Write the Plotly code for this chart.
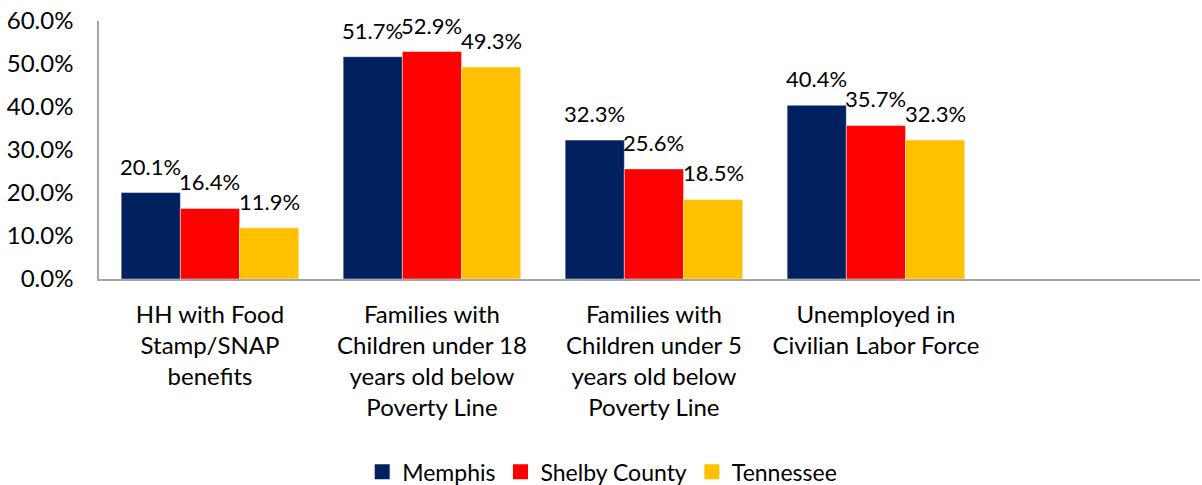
import plotly.graph_objects as go

# Poverty and hardship indicators, by geography
categories = [
    "HH with Food<br>Stamp/SNAP<br>benefits",
    "Families with<br>Children under 18<br>years old below<br>Poverty Line",
    "Families with<br>Children under 5<br>years old below<br>Poverty Line",
    "Unemployed in<br>Civilian Labor Force",
]
memphis = [0.201, 0.517, 0.323, 0.404]
shelby_county = [0.164, 0.529, 0.256, 0.357]
tennessee = [0.119, 0.493, 0.185, 0.323]

series = [
    ("Memphis", memphis, "#002060"),
    ("Shelby County", shelby_county, "#FF0000"),
    ("Tennessee", tennessee, "#FFC000"),
]

FONT = "Lato"
TEXT_COLOR = "#000000"
AXIS_COLOR = "#A6A6A6"

positions = list(range(len(categories)))
group_width = 0.8
bar_width = group_width / len(series)

fig = go.Figure()

for i, (name, values, color) in enumerate(series):
    fig.add_trace(go.Bar(
        name=name,
        x=positions,
        y=values,
        marker=dict(color=color, line=dict(color="rgba(255,255,255,0.45)", width=1)),
        showlegend=False,
        hoverinfo="skip",
    ))
    # value labels above each bar
    offset = (i - (len(series) - 1) / 2) * bar_width
    for x, v in zip(positions, values):
        fig.add_annotation(
            x=x + offset, y=v, xref="x", yref="y",
            text=f"{v * 100:.1f}%",
            showarrow=False, yanchor="bottom", xanchor="center",
            yshift=11,
            font=dict(family=FONT, size=22, color=TEXT_COLOR),
        )
    # square legend swatch
    fig.add_trace(go.Scatter(
        name=name, x=[None], y=[None], mode="markers",
        marker=dict(symbol="square", size=15, color=color),
        showlegend=True,
    ))

fig.update_layout(
    width=1202, height=485,
    margin=dict(l=99, r=2, t=21, b=206, autoexpand=False),
    paper_bgcolor="white", plot_bgcolor="white",
    barmode="group", bargap=0.2, bargroupgap=0,
    font=dict(family=FONT, size=23, color=TEXT_COLOR),
    legend=dict(
        orientation="h",
        xref="container", x=0.501, xanchor="center",
        yref="container", y=0.027, yanchor="middle",
        font=dict(family=FONT, size=23, color=TEXT_COLOR),
        itemsizing="trace",
    ),
)

fig.update_xaxes(
    tickmode="array", tickvals=positions, ticktext=categories,
    range=[-0.5, 4.46],
    showline=True, linecolor=AXIS_COLOR, linewidth=1.5,
    showgrid=False, zeroline=False, ticks="",
    tickfont=dict(family=FONT, size=24, color=TEXT_COLOR),
    ticklabelstandoff=13,
)
fig.update_yaxes(
    range=[0, 0.6], tickvals=[0, 0.1, 0.2, 0.3, 0.4, 0.5, 0.6],
    tickformat=".1%",
    showline=True, linecolor=AXIS_COLOR, linewidth=1.5,
    showgrid=False, zeroline=False, ticks="",
    tickfont=dict(family=FONT, size=24, color=TEXT_COLOR),
    ticklabelstandoff=19,
)

fig.write_html("out.html")
